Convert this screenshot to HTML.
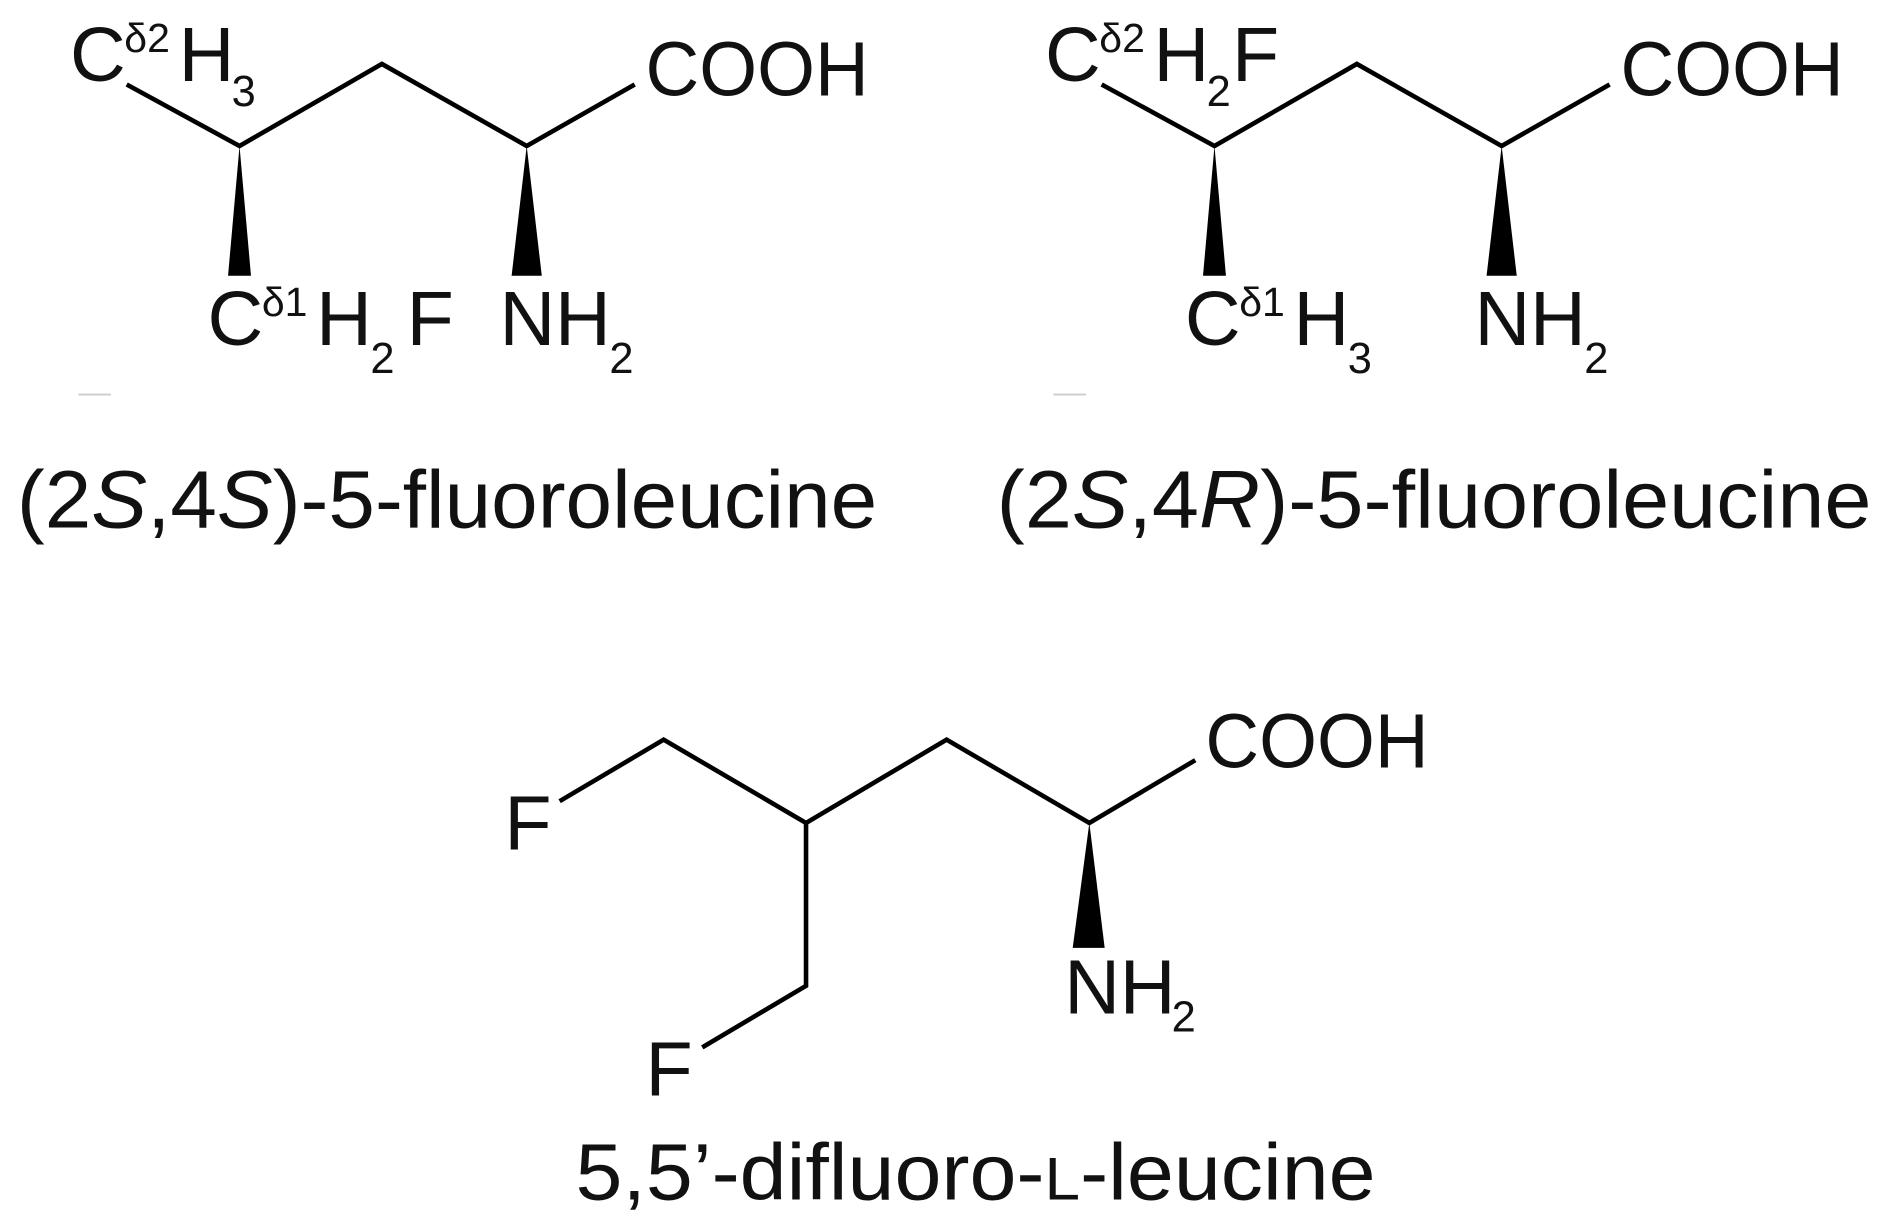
<!DOCTYPE html>
<html><head><meta charset="utf-8"><style>
html,body{margin:0;padding:0;background:#fff;}
svg{display:block;}
text{font-family:"Liberation Sans",Arial,sans-serif;fill:#111;}
</style></head><body>
<svg width="1892" height="1231" viewBox="0 0 1568 1020.2" xmlns="http://www.w3.org/2000/svg">
<g stroke="#000" stroke-width="3.8" fill="none" stroke-linecap="butt" stroke-linejoin="miter">
<polyline points="105,70 198.5,121 316.5,53 436.5,121 526,70"/>
<polyline points="913,70 1006.5,121 1124.5,53 1244.5,121 1334,70"/>
<polyline points="463.8,664 550,613 668,682 784.5,613 902.8,682 990.6,630"/>
<polyline points="668,682 668,817 582,868"/>
</g>
<g fill="#000">
<polygon points="198.5,121 189,228.5 208,228.5"/>
<polygon points="436.5,121 424,228.5 449,228.5"/>
<polygon points="1006.5,121 997,228.5 1016,228.5"/>
<polygon points="1244.5,121 1232,228.5 1257,228.5"/>
<polygon points="902.8,682 889,785.6 915.5,785.6"/>
</g>
<g stroke="#ccc" stroke-width="1.5">
<line x1="65" y1="327" x2="92" y2="327"/>
<line x1="873" y1="327" x2="900" y2="327"/>
</g>
<!-- molecule 1 -->
<text x="58" y="67" font-size="64">C</text>
<text x="103" y="43" font-size="34">δ2</text>
<text x="148" y="67" font-size="64">H</text>
<text x="192" y="88" font-size="36">3</text>
<text x="535" y="79" font-size="64" textLength="185" lengthAdjust="spacingAndGlyphs">COOH</text>
<text x="172" y="286" font-size="64">C</text>
<text x="217" y="262" font-size="34">δ1</text>
<text x="262" y="286" font-size="64">H</text>
<text x="307" y="309" font-size="36">2</text>
<text x="337" y="286" font-size="64">F</text>
<text x="414" y="286" font-size="64">N</text>
<text x="460" y="286" font-size="64">H</text>
<text x="505" y="309" font-size="36">2</text>
<text x="14" y="437" font-size="68" textLength="713" lengthAdjust="spacingAndGlyphs">(2<tspan font-style="italic">S</tspan>,4<tspan font-style="italic">S</tspan>)-5-fluoroleucine</text>
<!-- molecule 2 -->
<text x="866" y="67" font-size="64">C</text>
<text x="911" y="43" font-size="34">δ2</text>
<text x="956" y="67" font-size="64">H</text>
<text x="1000" y="88" font-size="36">2</text>
<text x="1021" y="67" font-size="64">F</text>
<text x="1343" y="79" font-size="64" textLength="185" lengthAdjust="spacingAndGlyphs">COOH</text>
<text x="982" y="286" font-size="64">C</text>
<text x="1027" y="262" font-size="34">δ1</text>
<text x="1072" y="286" font-size="64">H</text>
<text x="1117" y="309" font-size="36">3</text>
<text x="1222" y="286" font-size="64">N</text>
<text x="1268" y="286" font-size="64">H</text>
<text x="1313" y="309" font-size="36">2</text>
<text x="826" y="437" font-size="68" textLength="725" lengthAdjust="spacingAndGlyphs">(2<tspan font-style="italic">S</tspan>,4<tspan font-style="italic">R</tspan>)-5-fluoroleucine</text>
<!-- molecule 3 -->
<text x="999" y="636" font-size="64" textLength="185" lengthAdjust="spacingAndGlyphs">COOH</text>
<text x="418" y="704" font-size="64">F</text>
<text x="535" y="908" font-size="64">F</text>
<text x="882" y="840" font-size="64">N</text>
<text x="928" y="840" font-size="64">H</text>
<text x="971" y="855" font-size="36">2</text>
<text x="477" y="994" font-size="66" textLength="663" lengthAdjust="spacingAndGlyphs">5,5’-difluoro-<tspan font-size="50">L</tspan>-leucine</text>
</svg>
</body></html>
